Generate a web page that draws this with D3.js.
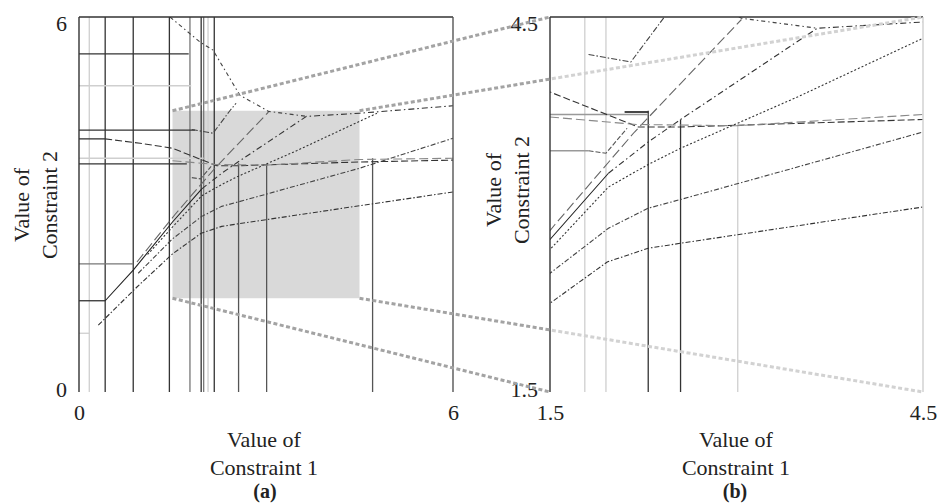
<html>
<head>
<meta charset="utf-8">
<title>constraints</title>
<script src="https://cdn.jsdelivr.net/npm/d3@7"></script>
<style>
  body { margin: 0; background: #fff; }
  text { font-family: "Liberation Serif", "DejaVu Serif", serif; fill: #222; }
</style>
</head>
<body>
<script>
// zoomed window, same on both axes
const zoomBox = [1.5, 4.5];

// panel (a) axis-parallel segments, data units
const vDarkA = [0.42, 0.87, 1.45, 1.96, 2.17];
const vGrayA = [1.78, 2.0];
const vLightA = [0.165, 2.07];
const vShortA = [{x: 2.56, top: 3.66}, {x: 3.01, top: 3.64}, {x: 4.71, top: 3.74}];
const hDarkA = [{y: 5.41, x1: 1.76}, {y: 4.19, x1: 1.86}, {y: 4.05, x1: 0.42}, {y: 3.65, x1: 1.73}, {y: 1.46, x1: 0.42}];
const hGrayA = [{y: 2.05, x1: 0.87}];
const hLightA = [{y: 4.9, x1: 1.8}, {y: 3.74, x1: 2.0}, {y: 0.94, x1: 0.165}];

// panel (b) axis-parallel segments
const vLightB = [1.78, 1.95];
const vShortB = [{x: 2.29, top: 3.75}, {x: 2.55, top: 3.68}];
const vShortLightB = [{x: 3.01, top: 3.64}];
const hGrayB = [{y: 3.72, x0: 1.5, x1: 2.29}, {y: 3.43, x0: 1.5, x1: 1.81}];

// curves (shared by both panels)
const curveSolid = [[0.42,1.46],[0.87,1.95],[1.5,2.72],[1.97,3.25]];
const curveUpper = [[1.97,3.25],[2.29,3.5],[2.55,3.68],[3.65,4.41],[4.5,4.46],[6,4.58]];
const curveTop = [[1.46,6],[1.94,5.6],[2.15,5.47],[2.58,4.75],[3.04,4.49],[3.65,4.41]];
const curveLongDash = [[0.93,2.08],[1.54,2.84],[2.18,3.58],[3.04,4.48]];
const curveDotted = [[1.1,2.2],[1.5,2.64],[1.97,3.14],[2.29,3.32],[2.55,3.45],[3.49,3.86],[4.5,4.33],[4.78,4.46]];
const curveMid = [[0.95,1.9],[1.5,2.45],[1.97,2.81],[2.29,2.97],[2.55,3.04],[3.49,3.3],[4.5,3.58],[6,4.06]];
const curveLow = [[0.31,1.07],[0.93,1.68],[1.5,2.21],[1.96,2.54],[2.29,2.65],[2.55,2.69],[4.5,2.98],[6,3.2]];
const curveFlat1 = [[0.42,4.05],[0.98,3.98],[1.5,3.9],[2.21,3.62],[2.55,3.62],[4.5,3.68],[6,3.71]];
const curveFlat2 = [[1.5,3.7],[2.2,3.64],[3.0,3.63],[4.5,3.72],[6,3.74]];
const curveShelf = [[1.81,4.2],[2.15,4.14],[2.42,4.5],[2.52,4.62]];
const curveStep = [[1.81,3.43],[1.95,3.41],[2.12,3.61]];

const w = 942, h = 504;
const svg = d3.select("body").append("svg").attr("width", w).attr("height", h);

const panels = [
  {id: "A", x: d3.scaleLinear().domain([0, 6]).range([79, 453]), y: d3.scaleLinear().domain([0, 6]).range([392, 17])},
  {id: "B", x: d3.scaleLinear().domain(zoomBox).range([550, 923]), y: d3.scaleLinear().domain(zoomBox).range([392, 17])}
];

const defs = svg.append("defs");
panels.forEach(p => {
  defs.append("clipPath").attr("id", "clip" + p.id).append("rect")
    .attr("x", p.x.range()[0]).attr("y", p.y.range()[1])
    .attr("width", p.x.range()[1] - p.x.range()[0]).attr("height", p.y.range()[0] - p.y.range()[1]);
});
defs.append("clipPath").attr("id", "outB").append("rect").attr("x", 0).attr("y", 0).attr("width", 550).attr("height", h);
defs.append("clipPath").attr("id", "inB").append("rect").attr("x", 550).attr("y", 0).attr("width", 400).attr("height", h);

const DARK = "#333", GRAY = "#777", LIGHT = "#cfcfcf";

function vline(g, p, x, top, color, wd) {
  g.append("line").attr("x1", p.x(x)).attr("x2", p.x(x))
    .attr("y1", p.y(top)).attr("y2", p.y(p.y.domain()[0]))
    .attr("stroke", color).attr("stroke-width", wd || 1.3);
}
function hline(g, p, y, x0, x1, color, wd) {
  g.append("line").attr("x1", p.x(x0)).attr("x2", p.x(x1))
    .attr("y1", p.y(y)).attr("y2", p.y(y))
    .attr("stroke", color).attr("stroke-width", wd || 1.3);
}

const curves = [
  {d: curveLow, dash: "5,2,1.5,2", c: DARK},
  {d: curveMid, dash: "5,2,1.5,2", c: "#444"},
  {d: curveDotted, dash: "2,2", c: DARK},
  {d: curveLongDash, dash: "10,4", c: "#666"},
  {d: curveSolid, dash: null, c: "#222"},
  {d: curveUpper, dash: "6,3,1.5,3", c: DARK},
  {d: curveTop, dash: "4,3,1.5,3", c: "#444"},
  {d: curveFlat1, dash: "7,3", c: DARK},
  {d: curveFlat2, dash: "9,4", c: "#888"},
  {d: curveShelf, dash: "6,2,1.5,2", c: "#444"},
  {d: curveStep, dash: "5,2", c: "#555"}
];

panels.forEach(p => {
  const g = svg.append("g").attr("clip-path", "url(#clip" + p.id + ")");
  const [x0, x1] = p.x.domain(), [y0, y1] = p.y.domain();

  if (p.id === "A") {
    g.append("rect").attr("x", p.x(zoomBox[0])).attr("y", p.y(zoomBox[1]))
      .attr("width", p.x(zoomBox[1]) - p.x(zoomBox[0]))
      .attr("height", p.y(zoomBox[0]) - p.y(zoomBox[1]))
      .attr("fill", "#d9d9d9");
    vLightA.forEach(x => vline(g, p, x, y1, LIGHT));
    vGrayA.forEach(x => vline(g, p, x, y1, GRAY));
    vDarkA.forEach(x => vline(g, p, x, y1, DARK));
    vShortA.forEach(v => vline(g, p, v.x, v.top, "#555"));
    hLightA.forEach(s => hline(g, p, s.y, x0, s.x1, LIGHT));
    hGrayA.forEach(s => hline(g, p, s.y, x0, s.x1, GRAY));
    hDarkA.forEach(s => hline(g, p, s.y, x0, s.x1, DARK));
  } else {
    vLightB.forEach(x => vline(g, p, x, y1, LIGHT));
    vShortLightB.forEach(v => vline(g, p, v.x, v.top, LIGHT));
    vShortB.forEach(v => vline(g, p, v.x, v.top, DARK));
    hGrayB.forEach(s => hline(g, p, s.y, s.x0, s.x1, "#999"));
    hline(g, p, 3.74, 2.1, 2.29, DARK, 1.8);
  }

  const line = d3.line().x(d => p.x(d[0])).y(d => p.y(d[1]));
  curves.forEach(cv => {
    g.append("path").attr("d", line(cv.d)).attr("fill", "none")
      .attr("stroke", cv.c).attr("stroke-width", 1.1)
      .attr("stroke-dasharray", cv.dash);
  });

  // frame: left + top dark, right lighter, no bottom
  svg.append("line").attr("x1", p.x(x0)).attr("x2", p.x(x0)).attr("y1", p.y(y1)).attr("y2", p.y(y0))
    .attr("stroke", DARK).attr("stroke-width", 1.4);
  svg.append("line").attr("x1", p.x(x0)).attr("x2", p.x(x1)).attr("y1", p.y(y1)).attr("y2", p.y(y1))
    .attr("stroke", DARK).attr("stroke-width", 1.4);
  svg.append("line").attr("x1", p.x(x1)).attr("x2", p.x(x1)).attr("y1", p.y(y1)).attr("y2", p.y(y0))
    .attr("stroke", p.id === "A" ? "#555" : LIGHT).attr("stroke-width", 1.4);

  // tick labels at the ends only
  const ax = svg.append("g").attr("transform", `translate(0,${p.y(y0)})`)
    .call(d3.axisBottom(p.x).tickValues(p.x.domain()).tickSize(0).tickPadding(12).tickFormat(d3.format("")));
  const ay = svg.append("g").attr("transform", `translate(${p.x(x0)},0)`)
    .call(d3.axisLeft(p.y).tickValues(p.y.domain()).tickSize(0).tickPadding(12).tickFormat(d3.format("")));
  [ax, ay].forEach(a => {
    a.select(".domain").remove();
    a.selectAll("text").style("font-family", "Liberation Serif").style("font-size", "22px").attr("fill", "#222");
  });
  ay.selectAll("text").attr("dy", d => d === y1 ? "0.6em" : "0.22em");
});

// dotted projection lines from the grey box to panel (b)
const [A, B] = panels;
const corners = [[zoomBox[0], zoomBox[1]], [zoomBox[1], zoomBox[1]], [zoomBox[0], zoomBox[0]], [zoomBox[1], zoomBox[0]]];
[["outB", "#a3a3a3"], ["inB", "#d2d2d2"]].forEach(([clip, col]) => {
  svg.append("g").attr("clip-path", `url(#${clip})`).selectAll("line").data(corners).join("line")
    .attr("x1", d => A.x(d[0])).attr("y1", d => A.y(d[1]))
    .attr("x2", d => B.x(d[0])).attr("y2", d => B.y(d[1]))
    .attr("stroke", col).attr("stroke-width", 3).attr("stroke-dasharray", "4,2.5");
});

// axis titles
function titleX(cx, lines) {
  lines.forEach((t, i) => svg.append("text").attr("x", cx).attr("y", 447 + i * 28)
    .attr("text-anchor", "middle").style("font-size", "22px").text(t));
}
function titleY(bx, cy, lines) {
  lines.forEach((t, i) => svg.append("text")
    .attr("transform", `translate(${bx + i * 28},${cy}) rotate(-90)`)
    .attr("text-anchor", "middle").style("font-size", "22px").text(t));
}
titleX(264, ["Value of", "Constraint 1"]);
titleX(736, ["Value of", "Constraint 1"]);
titleY(29, 205, ["Value of", "Constraint 2"]);
titleY(501, 190, ["Value of", "Constraint 2"]);

svg.append("text").attr("x", 265).attr("y", 498).attr("text-anchor", "middle")
  .style("font-size", "20px").style("font-weight", "bold").text("(a)");
svg.append("text").attr("x", 735).attr("y", 498).attr("text-anchor", "middle")
  .style("font-size", "20px").style("font-weight", "bold").text("(b)");
</script>
</body>
</html>
